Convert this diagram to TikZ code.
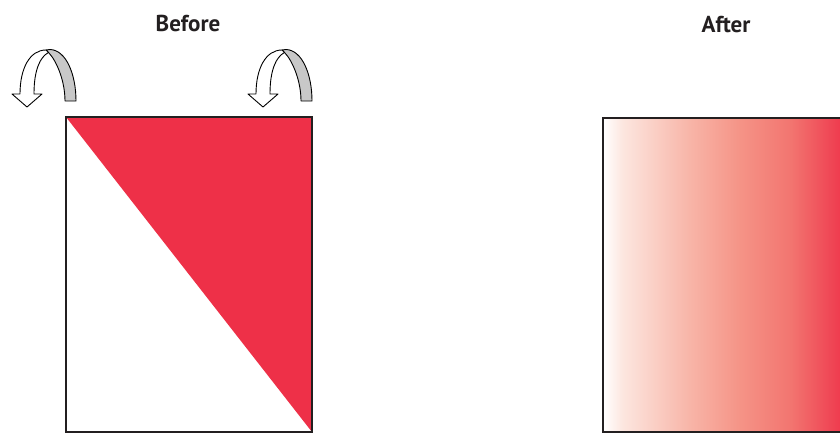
\documentclass[tikz,border=0pt]{standalone}
\usepackage{fontspec}
\setmainfont{PT Sans}
\definecolor{pagered}{HTML}{EE3048}
\definecolor{ribbongray}{HTML}{C8C8C8}
\definecolor{frame}{HTML}{231F20}
\definecolor{gA}{HTML}{FCE6DF}
\definecolor{gB}{HTML}{F8B5A8}
\definecolor{gC}{HTML}{F59487}
\definecolor{gD}{HTML}{F27570}
\pgfdeclarehorizontalshading{aftergrad}{100bp}{%
  color(0bp)=(white); color(25bp)=(white); color(29bp)=(gA);
  color(42.5bp)=(gB); color(52.5bp)=(gC); color(63bp)=(gD);
  color(75bp)=(pagered); color(100bp)=(pagered)}
\tikzset{
  title/.style={font=\bfseries\fontsize{23}{26}\selectfont, text=frame, inner sep=0pt, anchor=base},
  pageframe/.style={draw=frame, line width=2.2pt},
  ribbonfront/.style={draw=black, line width=0.9pt, fill=white, line join=round},
  ribbonback/.style={draw=black, line width=0.9pt, fill=ribbongray, line join=round},
}
\newcommand{\fliparrow}[1]{%
  \begin{scope}[shift={(#1,0)}]
    \path[ribbonback] (46,50) -- (48.5,52.5) .. controls (56,60) and (65,80) .. (65,101)
      -- (76,101) .. controls (76,74) and (66,50) .. (50,49.5) -- cycle;
    \path[ribbonfront] (20,94) -- (12,94) -- (27,107) -- (42,94) -- (34,94)
      .. controls (34,70) and (40,57) .. (48.5,52.5) -- (46,50)
      .. controls (30,50) and (20,68) .. (20,94) -- cycle;
  \end{scope}}
\begin{document}
\begin{tikzpicture}[x=1pt,y=-1pt]
  \clip (0,0) rectangle (840,434);
  \fill[white] (0,0) rectangle (840,434);
  % titles
  \node[title] (before) at (188,31) {Before};
  \node[title] (after) at (726,32) {After};
  % before page
  \fill[pagered] (66,117) -- (312,117) -- (312,432) -- cycle;
  \draw[pageframe] (66,117) rectangle (312,432);
  \fliparrow{0}
  \fliparrow{236}
  % after page
  \shade[shading=aftergrad] (603,118) rectangle (850,432);
  \draw[pageframe] (603,118) rectangle (852,432);
\end{tikzpicture}
\end{document}
